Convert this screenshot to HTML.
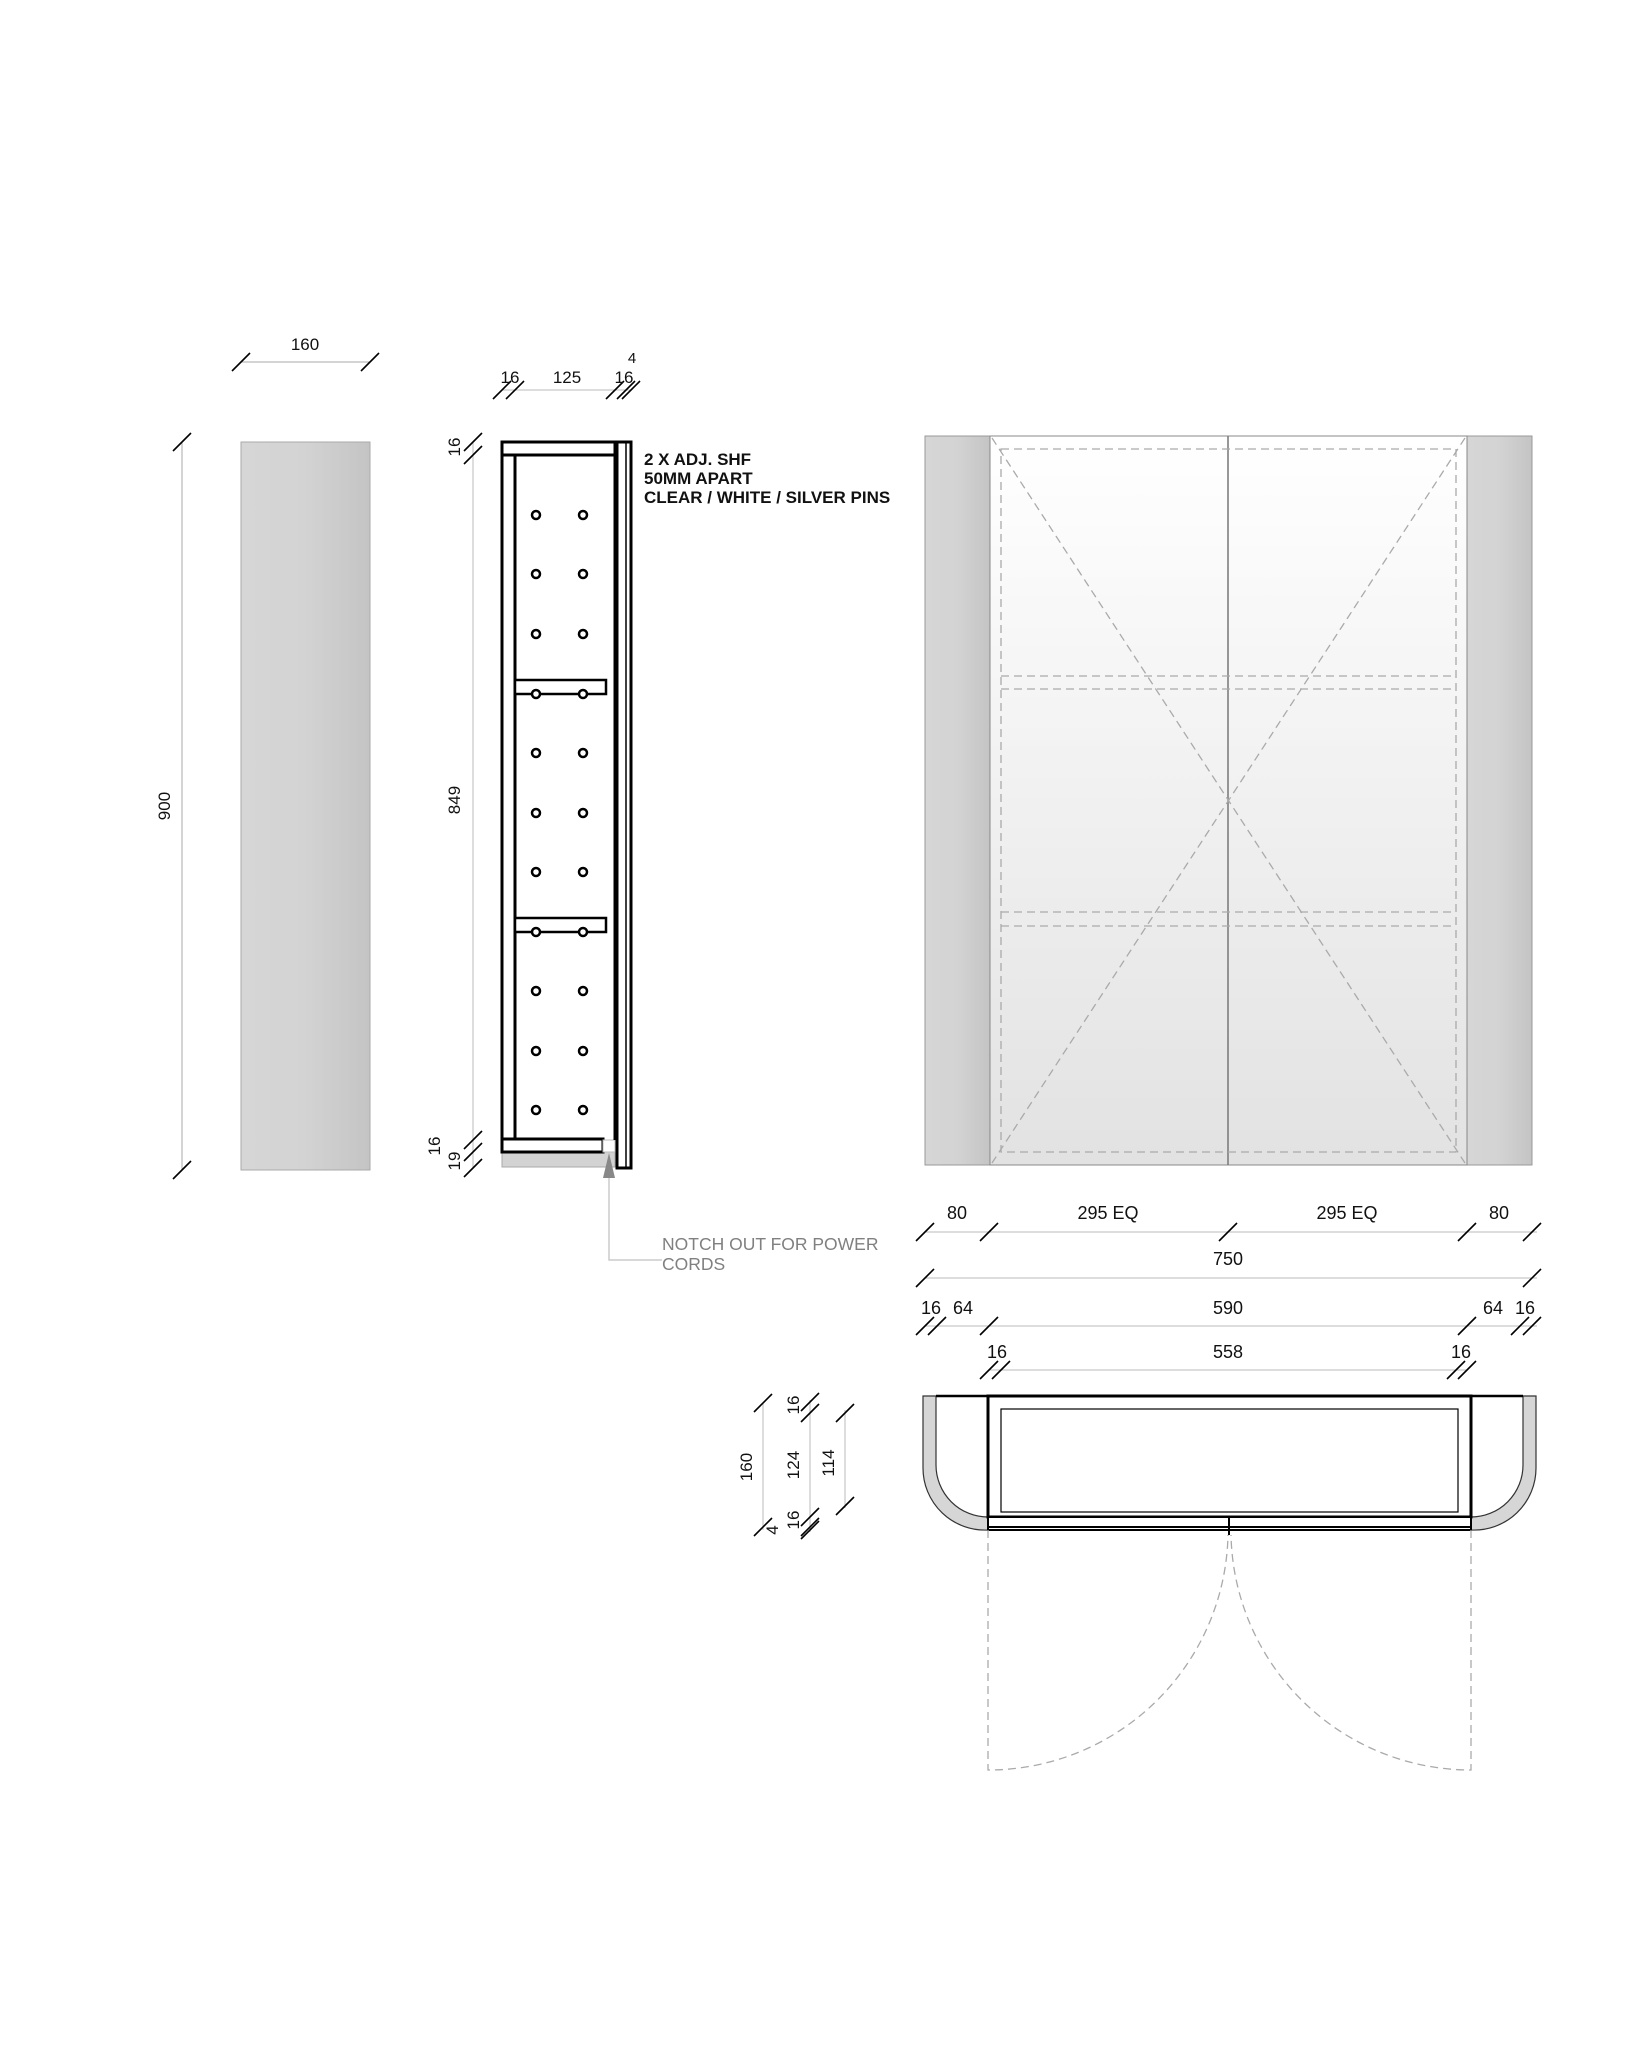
<!DOCTYPE html>
<html><head><meta charset="utf-8"><style>
html,body{margin:0;padding:0;background:#fff;}
svg{display:block;}
text{font-family:"Liberation Sans",sans-serif;fill:#111;}
</style></head><body>
<svg width="1638" height="2048" viewBox="0 0 1638 2048" xmlns="http://www.w3.org/2000/svg">
<defs>
<linearGradient id="pg" x1="0" x2="1" y1="0" y2="0"><stop offset="0" stop-color="#d6d6d6"/><stop offset="0.5" stop-color="#d3d3d3"/><stop offset="1" stop-color="#c4c4c4"/></linearGradient>
<linearGradient id="dg" x1="0" x2="0" y1="0" y2="1"><stop offset="0" stop-color="#ffffff"/><stop offset="1" stop-color="#e2e2e2"/></linearGradient>
<g id="t"><line x1="-9" y1="9" x2="9" y2="-9" stroke="#000" stroke-width="1.6"/></g>
</defs>

<!-- Side panel -->
<rect x="241" y="442" width="129" height="728" fill="url(#pg)" stroke="#aaa" stroke-width="1"/>
<line x1="182" y1="442" x2="182" y2="1170" stroke="#aaa"/>
<use href="#t" x="182" y="442"/><use href="#t" x="182" y="1170"/>
<text x="170" y="806" font-size="17" text-anchor="middle" transform="rotate(-90 170 806)">900</text>
<line x1="241" y1="362" x2="370" y2="362" stroke="#aaa"/>
<use href="#t" x="241" y="362"/><use href="#t" x="370" y="362"/>
<text x="305" y="350" font-size="17" text-anchor="middle">160</text>

<!-- Section -->
<line x1="473" y1="442" x2="473" y2="1168" stroke="#bbb"/>
<use href="#t" x="473" y="442"/><use href="#t" x="473" y="455"/>
<use href="#t" x="473" y="1140"/><use href="#t" x="473" y="1152"/><use href="#t" x="473" y="1168"/>
<text x="460" y="447" font-size="17" text-anchor="middle" transform="rotate(-90 460 447)">16</text>
<text x="460" y="800" font-size="17" text-anchor="middle" transform="rotate(-90 460 800)">849</text>
<text x="440" y="1146" font-size="17" text-anchor="middle" transform="rotate(-90 440 1146)">16</text>
<text x="460" y="1161" font-size="17" text-anchor="middle" transform="rotate(-90 460 1161)">19</text>

<line x1="502" y1="390" x2="632" y2="390" stroke="#bbb"/>
<use href="#t" x="502" y="390"/><use href="#t" x="515" y="390"/><use href="#t" x="615" y="390"/><use href="#t" x="626" y="390"/><use href="#t" x="631" y="390"/>
<text x="510" y="383" font-size="17" text-anchor="middle">16</text>
<text x="567" y="383" font-size="17" text-anchor="middle">125</text>
<text x="624" y="383" font-size="17" text-anchor="middle">16</text>
<text x="632" y="363" font-size="15" text-anchor="middle">4</text>

<rect x="502" y="1152" width="113" height="15" fill="#d3d3d3" stroke="#aaa"/>
<rect x="502" y="442" width="113" height="13" fill="#fff" stroke="#000" stroke-width="3"/>
<rect x="502" y="455" width="13" height="684" fill="#fff" stroke="#000" stroke-width="3"/>
<rect x="502" y="1139" width="101" height="13" fill="#fff" stroke="#000" stroke-width="3"/>
<rect x="603" y="1140" width="12" height="12" fill="#fff" stroke="#bbb"/>
<line x1="615" y1="455" x2="615" y2="1140" stroke="#000" stroke-width="3"/>
<rect x="617" y="442" width="14" height="726" fill="#fff" stroke="#000" stroke-width="3"/>
<line x1="626" y1="442" x2="626" y2="1168" stroke="#000" stroke-width="1.5"/>
<rect x="515" y="680" width="91" height="14" fill="#fff" stroke="#000" stroke-width="2.5"/>
<rect x="515" y="918" width="91" height="14" fill="#fff" stroke="#000" stroke-width="2.5"/>
<g fill="#fff" stroke="#000" stroke-width="2.5">
<circle cx="536" cy="515" r="4"/><circle cx="583" cy="515" r="4"/>
<circle cx="536" cy="574" r="4"/><circle cx="583" cy="574" r="4"/>
<circle cx="536" cy="634" r="4"/><circle cx="583" cy="634" r="4"/>
<circle cx="536" cy="694" r="4"/><circle cx="583" cy="694" r="4"/>
<circle cx="536" cy="753" r="4"/><circle cx="583" cy="753" r="4"/>
<circle cx="536" cy="813" r="4"/><circle cx="583" cy="813" r="4"/>
<circle cx="536" cy="872" r="4"/><circle cx="583" cy="872" r="4"/>
<circle cx="536" cy="932" r="4"/><circle cx="583" cy="932" r="4"/>
<circle cx="536" cy="991" r="4"/><circle cx="583" cy="991" r="4"/>
<circle cx="536" cy="1051" r="4"/><circle cx="583" cy="1051" r="4"/>
<circle cx="536" cy="1110" r="4"/><circle cx="583" cy="1110" r="4"/>
</g>
<text font-size="17" font-weight="bold"><tspan x="644" y="465">2 X ADJ. SHF</tspan><tspan x="644" y="484">50MM APART</tspan><tspan x="644" y="503">CLEAR / WHITE / SILVER PINS</tspan></text>
<polygon points="609,1153 603,1178 615,1178" fill="#888"/>
<polyline points="609,1178 609,1260 662,1260" fill="none" stroke="#ccc" stroke-width="1.5"/>
<text font-size="17.5" style="fill:#808080"><tspan x="662" y="1250">NOTCH OUT FOR POWER</tspan><tspan x="662" y="1270">CORDS</tspan></text>

<!-- Front elevation -->
<rect x="925" y="436" width="65" height="729" fill="url(#pg)" stroke="#999"/>
<rect x="1467" y="436" width="65" height="729" fill="url(#pg)" stroke="#999"/>
<rect x="990" y="436" width="477" height="729" fill="url(#dg)" stroke="#888"/>
<line x1="1228" y1="436" x2="1228" y2="1165" stroke="#777" stroke-width="1.5"/>
<g fill="none" stroke="#aaa" stroke-width="1.3" stroke-dasharray="8,5">
<rect x="1001" y="449" width="455" height="703"/>
<line x1="1001" y1="676" x2="1456" y2="676"/><line x1="1001" y1="689" x2="1456" y2="689"/>
<line x1="1001" y1="912" x2="1456" y2="912"/><line x1="1001" y1="926" x2="1456" y2="926"/>
<line x1="992" y1="438" x2="1465" y2="1163"/><line x1="1465" y1="438" x2="992" y2="1163"/>
</g>

<!-- Dimensions below -->
<g stroke="#bbb"><line x1="925" y1="1232" x2="1537" y2="1232"/><line x1="925" y1="1278" x2="1537" y2="1278"/><line x1="925" y1="1326" x2="1537" y2="1326"/><line x1="989" y1="1370" x2="1468" y2="1370"/></g>
<use href="#t" x="925" y="1232"/><use href="#t" x="989" y="1232"/><use href="#t" x="1228" y="1232"/><use href="#t" x="1467" y="1232"/><use href="#t" x="1532" y="1232"/>
<use href="#t" x="925" y="1278"/><use href="#t" x="1532" y="1278"/>
<use href="#t" x="925" y="1326"/><use href="#t" x="937" y="1326"/><use href="#t" x="989" y="1326"/><use href="#t" x="1467" y="1326"/><use href="#t" x="1520" y="1326"/><use href="#t" x="1532" y="1326"/>
<use href="#t" x="989" y="1370"/><use href="#t" x="1001" y="1370"/><use href="#t" x="1456" y="1370"/><use href="#t" x="1467" y="1370"/>
<g font-size="18" text-anchor="middle">
<text x="957" y="1219">80</text><text x="1108" y="1219">295  EQ</text><text x="1347" y="1219">295  EQ</text><text x="1499" y="1219">80</text>
<text x="1228" y="1265">750</text>
<text x="931" y="1314">16</text><text x="963" y="1314">64</text><text x="1228" y="1314">590</text><text x="1493" y="1314">64</text><text x="1525" y="1314">16</text>
<text x="997" y="1358">16</text><text x="1228" y="1358">558</text><text x="1461" y="1358">16</text>
</g>

<!-- Plan -->
<path d="M923,1396 L923,1468 A62,62 0 0 0 988,1530 L988,1517 A52,52 0 0 1 936,1465 L936,1396 Z" fill="#d6d6d6" stroke="#333" stroke-width="1.2"/>
<path d="M1536,1396 L1536,1468 A62,62 0 0 1 1471,1530 L1471,1517 A52,52 0 0 0 1523,1465 L1523,1396 Z" fill="#d6d6d6" stroke="#333" stroke-width="1.2"/>
<line x1="936" y1="1396" x2="1523" y2="1396" stroke="#000" stroke-width="2.5"/>
<rect x="988" y="1396" width="483" height="121" fill="#fff" stroke="#000" stroke-width="3"/>
<rect x="1001" y="1409" width="457" height="103" fill="#fff" stroke="#000" stroke-width="1.2"/>
<rect x="988" y="1517" width="483" height="13" fill="#fff" stroke="#000" stroke-width="2"/>
<line x1="988" y1="1527" x2="1471" y2="1527" stroke="#000" stroke-width="2"/>
<line x1="1229" y1="1517" x2="1229" y2="1535" stroke="#000" stroke-width="2"/>
<g fill="none" stroke="#aaa" stroke-width="1.3" stroke-dasharray="8,5">
<path d="M988,1530 L988,1770 A240,240 0 0 0 1228,1535"/>
<path d="M1471,1530 L1471,1770 A240,240 0 0 1 1231,1535"/>
</g>
<g stroke="#bbb"><line x1="763" y1="1403" x2="763" y2="1530"/><line x1="810" y1="1400" x2="810" y2="1532"/><line x1="845" y1="1410" x2="845" y2="1508"/></g>
<use href="#t" x="763" y="1403"/><use href="#t" x="763" y="1527"/>
<use href="#t" x="810" y="1402"/><use href="#t" x="810" y="1413"/><use href="#t" x="810" y="1517"/><use href="#t" x="810" y="1527"/><use href="#t" x="810" y="1530"/>
<use href="#t" x="845" y="1413"/><use href="#t" x="845" y="1506"/>
<g font-size="17" text-anchor="middle">
<text x="752" y="1467" transform="rotate(-90 752 1467)">160</text>
<text x="778" y="1530" transform="rotate(-90 778 1530)">4</text>
<text x="799" y="1405" transform="rotate(-90 799 1405)">16</text>
<text x="799" y="1465" transform="rotate(-90 799 1465)">124</text>
<text x="799" y="1520" transform="rotate(-90 799 1520)">16</text>
<text x="834" y="1463" transform="rotate(-90 834 1463)">114</text>
</g>
</svg>
</body></html>
